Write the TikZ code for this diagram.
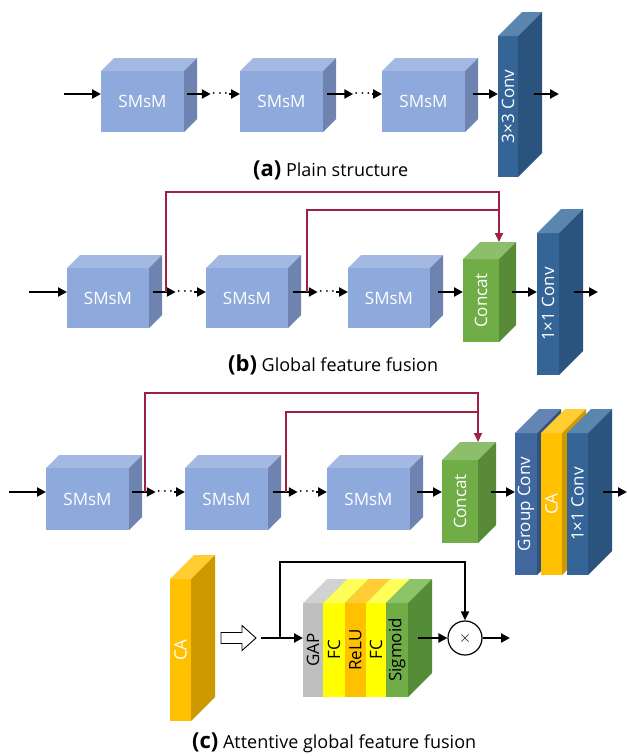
\documentclass[tikz,border=0pt]{standalone}
\usepackage{fontspec}
\setmainfont{Open Sans}
\usepackage{tikz}
\usetikzlibrary{calc, arrows.meta}

% face colours: front, top, side
\definecolor{sm}{RGB}{142,169,219}   \definecolor{smtop}{RGB}{163,185,226}   \definecolor{smside}{RGB}{110,131,175}
\definecolor{conv}{RGB}{52,101,150}  \definecolor{convtop}{RGB}{89,133,174}  \definecolor{convside}{RGB}{42,83,125}
\definecolor{gconv}{RGB}{64,104,158} \definecolor{gconvtop}{RGB}{100,133,180} \definecolor{gconvside}{RGB}{50,82,126}
\definecolor{cat}{RGB}{112,173,71}   \definecolor{cattop}{RGB}{141,190,108}  \definecolor{catside}{RGB}{88,138,56}
\definecolor{ca}{RGB}{255,192,0}     \definecolor{catop}{RGB}{255,205,50}    \definecolor{caside}{RGB}{204,153,0}
\definecolor{gap}{RGB}{191,191,191}  \definecolor{gaptop}{RGB}{210,210,210}  \definecolor{gapside}{RGB}{150,150,150}
\definecolor{fc}{RGB}{255,255,0}     \definecolor{fctop}{RGB}{255,255,90}    \definecolor{fcside}{RGB}{204,204,0}
\definecolor{relu}{RGB}{255,192,0}   \definecolor{relutop}{RGB}{255,204,51}  \definecolor{reluside}{RGB}{204,153,0}
\definecolor{sig}{RGB}{112,173,71}   \definecolor{sigtop}{RGB}{140,195,105}  \definecolor{sigside}{RGB}{85,140,55}
\definecolor{skipred}{RGB}{155,34,66}

% #1 name, #2 centre of front face, #3 width, #4 height, #5 depth, #6 colour, #7 text colour, #8 label
\newcommand{\cube}[8]{%
  \node[face, fill=#6, text=#7, minimum width=#3pt, minimum height=#4pt] (#1) at (#2) {#8};
  \fill[#6top] (#1.north west) -- ++(#5,-#5) -- ++(#3,0) -- (#1.north east) -- cycle;
  \fill[#6side] (#1.north east) -- ++(#5,-#5) -- ++(0,#4) -- (#1.south east) -- cycle;
}
\newcommand{\up}[1]{\rotatebox{90}{#1}}

\begin{document}
\begin{tikzpicture}[x=1pt, y=-1pt,
  face/.style={inner sep=0pt, outer sep=0pt, font=\fontsize{17}{17}\selectfont},
  arr/.style={line width=2.3pt, -{Triangle[length=9pt, width=9pt]}},
  skipline/.style={line width=2pt, skipred, -{Triangle[length=9pt, width=8pt]}},
  thinarr/.style={line width=1.8pt, -{Triangle[length=9pt, width=8pt]}},
  dotnode/.style={inner sep=1pt, font=\fontsize{13}{13}\selectfont\boldmath},
  capt/.style={anchor=base west, inner sep=0pt, font=\fontsize{18}{18}\selectfont}]
  \useasboundingbox (0,0) rectangle (627,756);

  % (a) plain structure
  \coordinate (ya) at (0,94);
  \cube{s1a}{142.5,101.5}{83}{61}{13}{sm}{white}{SMsM}
  \cube{s2a}{281.5,101.5}{83}{61}{13}{sm}{white}{SMsM}
  \cube{s3a}{423.5,101.5}{83}{61}{13}{sm}{white}{SMsM}
  \cube{cva}{508,106.5}{20}{141}{24}{conv}{white}{\up{3×3 Conv}}
  \node[dotnode] (d1a) at (220,94) {$\cdots$};
  \node[dotnode] (d2a) at (362.5,94) {$\cdots$};
  \coordinate (ia) at (64,94);
  \coordinate (oa) at (559,94);
  \draw[arr] (ia) -- (s1a.west |- ya);
  \draw[arr, shorten <=3pt] (s1a.east |- ya) -- (d1a.west);
  \draw[arr] (d1a.east) -- (s2a.west |- ya);
  \draw[arr, shorten <=4pt] (s2a.east |- ya) -- (d2a.west);
  \draw[arr] (d2a.east) -- (s3a.west |- ya);
  \draw[arr, shorten <=8pt] (s3a.east |- ya) -- (cva.west |- ya);
  \draw[arr, shorten <=16pt] (cva.east |- ya) -- (oa);
  \node[capt] (capa) at (253,176) {{\bfseries\fontsize{22}{22}\selectfont (a)} Plain structure};

  % (b) global feature fusion
  \coordinate (yb) at (0,292);
  \cube{s1b}{108,298}{82}{60}{13}{sm}{white}{SMsM}
  \cube{s2b}{247,298}{82}{60}{13}{sm}{white}{SMsM}
  \cube{s3b}{389,298}{82}{60}{13}{sm}{white}{SMsM}
  \cube{catb}{481,300.5}{36}{83}{17}{cat}{white}{\up{Concat}}
  \cube{cvb}{548,304}{22}{142}{24}{conv}{white}{\up{1×1 Conv}}
  \node[dotnode] (d1b) at (185,292) {$\cdots$};
  \node[dotnode] (d2b) at (327,292) {$\cdots$};
  \coordinate (ib) at (29,292);
  \coordinate (ob) at (598,292);
  \coordinate (b1) at (166,292);
  \coordinate (b2) at (307,292);
  \draw[arr] (ib) -- (s1b.west |- yb);
  \draw[arr, shorten <=4pt] (s1b.east |- yb) -- (d1b.west);
  \draw[arr] (d1b.east) -- (s2b.west |- yb);
  \draw[arr, shorten <=5pt] (s2b.east |- yb) -- (d2b.west);
  \draw[arr] (d2b.east) -- (s3b.west |- yb);
  \draw[arr, shorten <=8pt] (s3b.east |- yb) -- (catb.west |- yb);
  \draw[arr, shorten <=13pt] (catb.east |- yb) -- (cvb.west |- yb);
  \draw[arr, shorten <=15pt] (cvb.east |- yb) -- (ob);
  \draw[skipline] (b1) -- ++(0,-100) -| ([yshift=17pt]catb.north east);
  \draw[skipline, -] (b2) |- (499,210);
  \node[capt] (capb) at (228,371) {{\bfseries\fontsize{22}{22}\selectfont (b)} Global feature fusion};

  % (c) attentive global feature fusion
  \coordinate (yc) at (0,492);
  \cube{s1c}{87.5,499}{83}{62}{13}{sm}{white}{SMsM}
  \cube{s2c}{226.5,499}{83}{62}{13}{sm}{white}{SMsM}
  \cube{s3c}{368.5,499}{83}{62}{13}{sm}{white}{SMsM}
  \cube{catc}{460,501.5}{36}{83}{18}{cat}{white}{\up{Concat}}
  \cube{gcv}{526,504}{22}{142}{24}{gconv}{white}{\up{Group Conv}}
  \cube{cac}{551.5,504}{21}{142}{24}{ca}{white}{\up{CA}}
  \cube{cvc}{577.5,504}{21}{142}{24}{conv}{white}{\up{1×1 Conv}}
  \node[dotnode] (d1c) at (165,492) {$\cdots$};
  \node[dotnode] (d2c) at (307,492) {$\cdots$};
  \coordinate (ic) at (9,492);
  \coordinate (oc) at (627,492);
  \coordinate (c1) at (145,492);
  \coordinate (c2) at (286,492);
  \draw[arr] (ic) -- (s1c.west |- yc);
  \draw[arr, shorten <=3pt] (s1c.east |- yc) -- (d1c.west);
  \draw[arr] (d1c.east) -- (s2c.west |- yc);
  \draw[arr, shorten <=5pt] (s2c.east |- yc) -- (d2c.west);
  \draw[arr] (d2c.east) -- (s3c.west |- yc);
  \draw[arr, shorten <=7pt] (s3c.east |- yc) -- (catc.west |- yc);
  \draw[arr, shorten <=13pt] (catc.east |- yc) -- (gcv.west |- yc);
  \draw[arr, shorten <=15pt] (cvc.east |- yc) -- (oc);
  \draw[skipline] (c1) -- ++(0,-99) -| ([yshift=18pt]catc.north east);
  \draw[skipline, -] (c2) |- (478,412);

  % channel attention block
  \cube{ca}{180.5,650}{21}{142}{24}{ca}{white}{\up{CA}}
  % hollow arrow
  \draw[line width=0.9pt, fill=white] (221,632.5) -- (242,632.5) -- (242,625.5) -- (256,638)
    -- (242,650.5) -- (242,643.5) -- (221,643.5) -- cycle;
  \cube{gap}{313,650}{20}{94}{24}{gap}{black}{\up{GAP}}
  \cube{fc1}{334,650}{22}{94}{24}{fc}{black}{\up{FC}}
  \cube{relu}{355.5,650}{21}{94}{24}{relu}{black}{\up{ReLU}}
  \cube{fc2}{376,650}{20}{94}{24}{fc}{black}{\up{FC}}
  \cube{sig}{397,650}{22}{94}{24}{sig}{black}{\up{Sigmoid}}
  \node[draw, circle, line width=1.2pt, minimum size=34pt, inner sep=0pt] (mul) at (465,638) {\scalebox{1.6}{$\times$}};
  \coordinate (in) at (261,638);
  \coordinate (br) at (280,638);
  \coordinate (out) at (510,638);
  \draw[arr] (in) -- (gap.west |- in);
  \draw[thinarr] (br) -- ++(0,-76) -| (mul.north);
  \draw[arr, shorten <=10pt] (sig.east |- in) -- (mul.west);
  \draw[arr] (mul.east) -- (out);
  \node[capt] (capc) at (192,748) {{\bfseries\fontsize{22}{22}\selectfont (c)} Attentive global feature fusion};
\end{tikzpicture}
\end{document}
